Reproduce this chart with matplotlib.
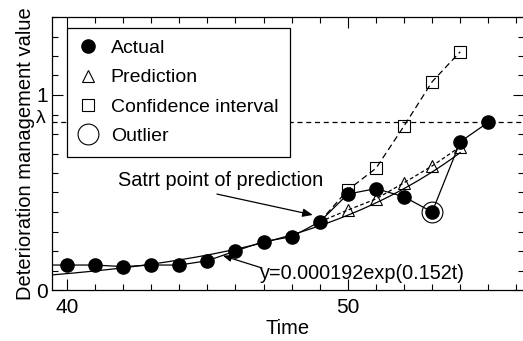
import matplotlib
matplotlib.use('Agg')
import matplotlib.pyplot as plt
import numpy as np
from matplotlib.ticker import MultipleLocator
from matplotlib.lines import Line2D

plt.rcParams['font.family'] = ['Liberation Sans', 'DejaVu Sans']

# ---- data ----
time_actual = [39, 40, 41, 42, 43, 44, 45, 46, 47, 48, 49, 50, 51, 52, 53, 54, 55]
actual = [0.128, 0.128, 0.128, 0.12, 0.128, 0.128, 0.15, 0.20, 0.248, 0.273,
          0.35, 0.492, 0.52, 0.478, 0.40, 0.76, 0.86]
time_pred = [49, 50, 51, 52, 53, 54]
prediction = [0.35, 0.41, 0.467, 0.55, 0.636, 0.735]
time_ci = [49, 50, 51, 52, 53, 54]
conf_interval = [0.35, 0.513, 0.624, 0.841, 1.068, 1.222]
time_outlier = [53]
outlier = [0.40]
fit_a, fit_b = 0.000192, 0.152
fit_range = (39.5, 54)
lam = 0.862
fit_label = "y=0.000192exp(0.152t)"
start_label = "Satrt point of prediction"

fig = plt.figure(figsize=(5.23, 3.41), dpi=100)
ax = fig.add_axes([52/523, 1-290/341, 472/523, 273/341])

lw = 0.9
# threshold line
ax.axhline(lam, color='black', lw=lw, ls=(0, (4, 3)), zorder=1)

# fitted curve
t = np.linspace(fit_range[0], fit_range[1], 300)
ax.plot(t, fit_a*np.exp(fit_b*t), color='black', lw=lw, zorder=2)

# prediction & CI lines
ax.plot(time_pred, prediction, color='black', lw=lw, ls=(0, (3, 2)), zorder=2)
ax.plot(time_ci, conf_interval, color='black', lw=lw, ls=(0, (5, 3)), zorder=2)
ax.plot(time_pred[1:], prediction[1:], ls='none', marker='^', ms=8,
        mfc='none', mec='black', mew=0.8, zorder=3)
ax.plot(time_ci[1:], conf_interval[1:], ls='none', marker='s', ms=8.5,
        mfc='none', mec='black', mew=0.8, zorder=3)

# actual
ax.plot(time_actual, actual, color='black', lw=lw, marker='o', ms=9.5,
        mfc='black', mec='black', zorder=4)
# outlier
ax.plot(time_outlier, outlier, ls='none', marker='o', ms=15, mfc='none',
        mec='black', mew=0.8, zorder=5)

ax.set_xlim(39.47, 56.27)
ax.set_ylim(0, 1.4)
ax.set_xticks([40, 50])
ax.xaxis.set_minor_locator(MultipleLocator(1))
ax.set_yticks([0, 1])
ax.yaxis.set_minor_locator(MultipleLocator(0.1))
ax.tick_params(which='both', direction='in', top=True, right=True, labelsize=15, width=0.8)
ax.tick_params(which='major', length=8)
ax.tick_params(which='minor', length=4.5)
ax.tick_params(axis='x', pad=6)
ax.tick_params(axis='y', pad=3)
for s in ax.spines.values():
    s.set_linewidth(0.9)

ax.text(-0.014, lam + 0.017, 'λ', transform=ax.get_yaxis_transform(),
        ha='right', va='center', fontsize=14)

ax.set_xlabel('Time', fontsize=14.5, labelpad=1)
ax.set_ylabel('Deterioration management value', fontsize=14.5, labelpad=1)

# annotations
ax.text(41.81, 0.559, start_label, fontsize=14.3, ha='left', va='center')
ax.annotate('', xy=(48.75, 0.385), xytext=(45.34, 0.492),
            arrowprops=dict(arrowstyle='-|>,head_length=0.6,head_width=0.25',
                            color='black', lw=0.9, shrinkA=0, shrinkB=0))
ax.text(46.87, 0.087, fit_label, fontsize=14.3, ha='left', va='center')
ax.annotate('', xy=(45.55, 0.176), xytext=(46.94, 0.113),
            arrowprops=dict(arrowstyle='-|>,head_length=0.5,head_width=0.2',
                            color='black', lw=0.9, shrinkA=0, shrinkB=0))

handles = [
    Line2D([], [], ls='none', marker='o', ms=9.5, mfc='black', mec='black'),
    Line2D([], [], ls='none', marker='^', ms=8, mfc='none', mec='black', mew=0.8),
    Line2D([], [], ls='none', marker='s', ms=8.5, mfc='none', mec='black', mew=0.8),
    Line2D([], [], ls='none', marker='o', ms=15, mfc='none', mec='black', mew=0.8),
]
labels = ['Actual', 'Prediction', 'Confidence interval', 'Outlier']
leg = ax.legend(handles, labels, loc='upper left', bbox_to_anchor=(0.032, 0.96),
                borderaxespad=0, fontsize=14, frameon=True, fancybox=False,
                edgecolor='black', framealpha=1, handlelength=0.9,
                handletextpad=0.75, labelspacing=0.6, borderpad=0.6, numpoints=1)
leg.get_frame().set_linewidth(0.9)

fig.savefig('out.png', dpi=100)
